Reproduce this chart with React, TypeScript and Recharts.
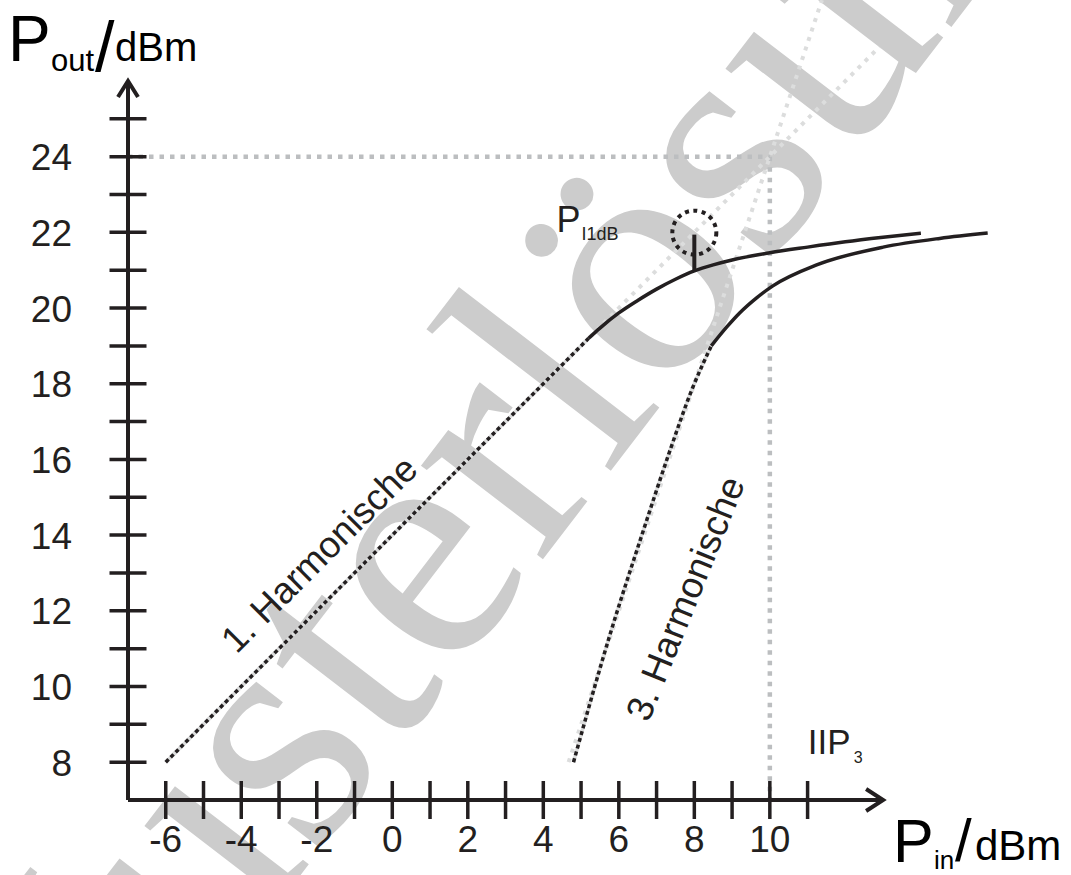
import React from 'react';
import { ComposedChart, Line, XAxis, YAxis, ReferenceLine, ReferenceDot } from 'recharts';

// Achsen
const xTicks = [-6, -5, -4, -3, -2, -1, 0, 1, 2, 3, 4, 5, 6, 7, 8, 9, 10, 11];
const xLabels = [-6, -4, -2, 0, 2, 4, 6, 8, 10];
const yTicks = [8, 9, 10, 11, 12, 13, 14, 15, 16, 17, 18, 19, 20, 21, 22, 23, 24, 25];
const yLabels = [8, 10, 12, 14, 16, 18, 20, 22, 24];

// 1. Harmonische: linearer Bereich und Kompression
const h1LinX = [-6, 5.2];
const h1LinY = [8, 19.2];
const h1CompX = [5.2, 5.5, 6.0, 6.5, 7.0, 7.5, 8.0, 8.5, 9.0, 10.0, 11.0, 12.0, 13.0, 14.0];
const h1CompY = [19.2, 19.47, 19.87, 20.2, 20.5, 20.76, 20.98, 21.14, 21.27, 21.46, 21.61, 21.75, 21.87, 21.98];

// 3. Harmonische
const h3LinX = [4.8, 5.76, 6.63, 7.35, 7.95, 8.45];
const h3LinY = [8.0, 11.35, 14.06, 16.22, 17.88, 19.0];
const h3CompX = [8.45, 8.86, 9.2, 9.65, 10.07, 11.24, 13.0, 14.5, 15.77];
const h3CompY = [19.0, 19.5, 19.87, 20.27, 20.58, 21.14, 21.61, 21.84, 21.98];

// Extrapolationen (grau gepunktet)
const ext1X = [-6, 12.9];
const ext1Y = [8, 26.9];
const ext3X = [4.67, 11.38];
const ext3Y = [8, 28.14];

// IIP3 und P1dB
const iip3X = 10;
const iip3Y = 24;
const p1dbX = 8;
const p1dbY = 21;
const p1dbLinY = 21.94;

const xMin = -7;
const yMin = 7;
const xArrow = 13;
const yArrow = 26;

const pts = (xs: number[], ys: number[]) => xs.map((x, i) => ({ x, y: ys[i] }));

const INK = '#231f20';
const GUIDE = '#bcbec0';
const LIGHT = '#dcdddd';
const FONT = '"Liberation Sans", Arial, sans-serif';
const W = 1071;
const H = 875;

const XTick = (props: any) => {
  const { x, y, payload } = props;
  const v = payload.value;
  return (
    <g>
      <line x1={x} x2={x} y1={y - 19} y2={y + 19} stroke={INK} strokeWidth={3.5} />
      {xLabels.includes(v) && (
        <text x={x} y={y + 52} textAnchor="middle" fontSize={37} fill={INK} fontFamily={FONT}>
          {v}
        </text>
      )}
    </g>
  );
};

const YTick = (props: any) => {
  const { x, y, payload } = props;
  const v = payload.value;
  return (
    <g>
      <line x1={x - 18.5} x2={x + 18.5} y1={y} y2={y} stroke={INK} strokeWidth={3.5} />
      {yLabels.includes(v) && (
        <text x={x - 56} y={y + 13.5} textAnchor="end" fontSize={37} fill={INK} fontFamily={FONT}>
          {v}
        </text>
      )}
    </g>
  );
};

const OutTitle = (props: any) => {
  const vb = props.viewBox || { x: 0, y: 0 };
  const ox = vb.x;
  const oy = vb.y;
  return (
    <g fill="#000" fontFamily={FONT}>
      <text x={ox + 8} y={oy + 61} fontSize={64}>P</text>
      <text x={ox + 51} y={oy + 71} fontSize={31}>out</text>
      <text x={ox + 95} y={oy + 71} fontSize={70}>/</text>
      <text x={ox + 115} y={oy + 61} fontSize={40}>dBm</text>
    </g>
  );
};

const InTitle = (props: any) => {
  const vb = props.viewBox || { x: 128, y: 800 };
  const ox = vb.x - 128;
  const oy = vb.y - 800;
  return (
    <g fill="#000" fontFamily={FONT}>
      <text x={ox + 893} y={oy + 862} fontSize={61}>P</text>
      <text x={ox + 934} y={oy + 869} fontSize={26}>in</text>
      <text x={ox + 955} y={oy + 861} fontSize={60}>/</text>
      <text x={ox + 975} y={oy + 860} fontSize={42}>dBm</text>
    </g>
  );
};

const rotatedText = (label: string, angle: number) => (p: any) => (
  <text
    x={p.cx}
    y={p.cy}
    transform={`rotate(${angle} ${p.cx} ${p.cy})`}
    textAnchor="middle"
    fontSize={37}
    fill={INK}
    fontFamily={FONT}
  >
    {label}
  </text>
);

export default function App() {
  return (
    <div style={{ position: 'absolute', left: 0, top: 0, width: W, height: H, background: '#fff' }}>
      <svg width={W} height={H} style={{ position: 'absolute', left: 0, top: 0 }}>
        <text
          x={29}
          y={1229}
          transform="rotate(-52.5 29 1229)"
          fontSize={335}
          fill="#cccccc"
          fontFamily='"Liberation Serif", "Times New Roman", serif'
        >
          Musterlösung
        </text>
      </svg>
      <div style={{ position: 'absolute', left: 0, top: 0 }}>
        <ComposedChart width={W} height={H} margin={{ top: 0, right: 18, bottom: 0, left: 0 }}>
          <XAxis
            type="number"
            dataKey="x"
            domain={[xMin, 17.5]}
            allowDataOverflow
            ticks={xTicks}
            interval={0}
            height={75}
            axisLine={false}
            tickLine={false}
            tickSize={0}
            tickMargin={0}
            tick={<XTick />}
            label={<InTitle />}
          />
          <YAxis
            type="number"
            dataKey="y"
            domain={[yMin, 28.14]}
            allowDataOverflow
            ticks={yTicks}
            interval={0}
            width={128}
            axisLine={false}
            tickLine={false}
            tickSize={0}
            tickMargin={0}
            tick={<YTick />}
            label={<OutTitle />}
          />

          {/* Hilfslinien IIP3 */}
          <Line data={pts([xMin, iip3X], [iip3Y, iip3Y])} dataKey="y" type="linear" stroke={GUIDE} strokeWidth={4.5} strokeDasharray="4.5 6" dot={false} activeDot={false} isAnimationActive={false} />
          <Line data={pts([iip3X, iip3X], [iip3Y, yMin])} dataKey="y" type="linear" stroke={GUIDE} strokeWidth={4.5} strokeDasharray="4.5 6" dot={false} activeDot={false} isAnimationActive={false} />

          {/* Extrapolationen */}
          <Line data={pts(ext1X, ext1Y)} dataKey="y" type="linear" stroke={LIGHT} strokeWidth={4} strokeDasharray="4 6" dot={false} activeDot={false} isAnimationActive={false} />
          <Line data={pts(ext3X, ext3Y)} dataKey="y" type="linear" stroke={LIGHT} strokeWidth={4} strokeDasharray="4 6" dot={false} activeDot={false} isAnimationActive={false} />

          {/* 1. Harmonische */}
          <Line data={pts(h1LinX, h1LinY)} dataKey="y" type="linear" stroke={LIGHT} strokeWidth={3.5} dot={false} activeDot={false} isAnimationActive={false} />
          <Line data={pts(h1LinX, h1LinY)} dataKey="y" type="linear" stroke={INK} strokeWidth={3.5} strokeDasharray="4 3" dot={false} activeDot={false} isAnimationActive={false} />
          <Line data={pts(h1CompX, h1CompY)} dataKey="y" type="monotone" stroke={INK} strokeWidth={3.5} dot={false} activeDot={false} isAnimationActive={false} />

          {/* 3. Harmonische */}
          <Line data={pts(h3LinX, h3LinY)} dataKey="y" type="monotone" stroke={LIGHT} strokeWidth={3.5} dot={false} activeDot={false} isAnimationActive={false} />
          <Line data={pts(h3LinX, h3LinY)} dataKey="y" type="monotone" stroke={INK} strokeWidth={3.5} strokeDasharray="4 3" dot={false} activeDot={false} isAnimationActive={false} />
          <Line data={pts(h3CompX, h3CompY)} dataKey="y" type="monotone" stroke={INK} strokeWidth={3.5} dot={false} activeDot={false} isAnimationActive={false} />

          {/* Achsen mit Pfeilen */}
          <ReferenceLine segment={[{ x: xMin, y: yMin }, { x: xArrow, y: yMin }]} stroke={INK} strokeWidth={4} ifOverflow="visible" />
          <ReferenceLine segment={[{ x: xMin, y: yMin }, { x: xMin, y: yArrow }]} stroke={INK} strokeWidth={4} ifOverflow="visible" />
          <ReferenceDot
            x={xArrow}
            y={yMin}
            ifOverflow="visible"
            shape={(p: any) => (
              <path d={`M${p.cx - 17},${p.cy - 11} L${p.cx},${p.cy} L${p.cx - 17},${p.cy + 11}`} fill="none" stroke={INK} strokeWidth={4} />
            )}
          />
          <ReferenceDot
            x={xMin}
            y={yArrow}
            ifOverflow="visible"
            shape={(p: any) => (
              <path d={`M${p.cx - 10},${p.cy + 16} L${p.cx},${p.cy} L${p.cx + 10},${p.cy + 16}`} fill="none" stroke={INK} strokeWidth={4} />
            )}
          />

          {/* P1dB Markierung */}
          <ReferenceLine segment={[{ x: p1dbX, y: p1dbY }, { x: p1dbX, y: p1dbLinY }]} stroke={INK} strokeWidth={4} ifOverflow="visible" />
          <ReferenceDot
            x={p1dbX}
            y={p1dbLinY}
            ifOverflow="visible"
            shape={(p: any) => (
              <circle cx={p.cx} cy={p.cy - 2} r={22} fill="none" stroke={INK} strokeWidth={4} strokeDasharray="4 4.5" />
            )}
          />
          <ReferenceDot
            x={4.35}
            y={22}
            ifOverflow="visible"
            shape={(p: any) => (
              <g fill={INK} fontFamily={FONT}>
                <text x={p.cx} y={p.cy} fontSize={36}>P</text>
                <text x={p.cx + 25} y={p.cy + 8} fontSize={18}>I1dB</text>
              </g>
            )}
          />
          <ReferenceDot
            x={11.06}
            y={8.22}
            ifOverflow="visible"
            shape={(p: any) => (
              <g fill={INK} fontFamily={FONT}>
                <text x={p.cx - 2} y={p.cy} fontSize={35}>IIP</text>
                <text x={p.cx + 44} y={p.cy + 9} fontSize={16}>3</text>
              </g>
            )}
          />

          {/* Beschriftung der Kurven */}
          <ReferenceDot x={-1.7} y={13.26} ifOverflow="visible" shape={rotatedText('1. Harmonische', -45)} />
          <ReferenceDot x={8.07} y={12.2} ifOverflow="visible" shape={rotatedText('3. Harmonische', -68)} />
        </ComposedChart>
      </div>
    </div>
  );
}
